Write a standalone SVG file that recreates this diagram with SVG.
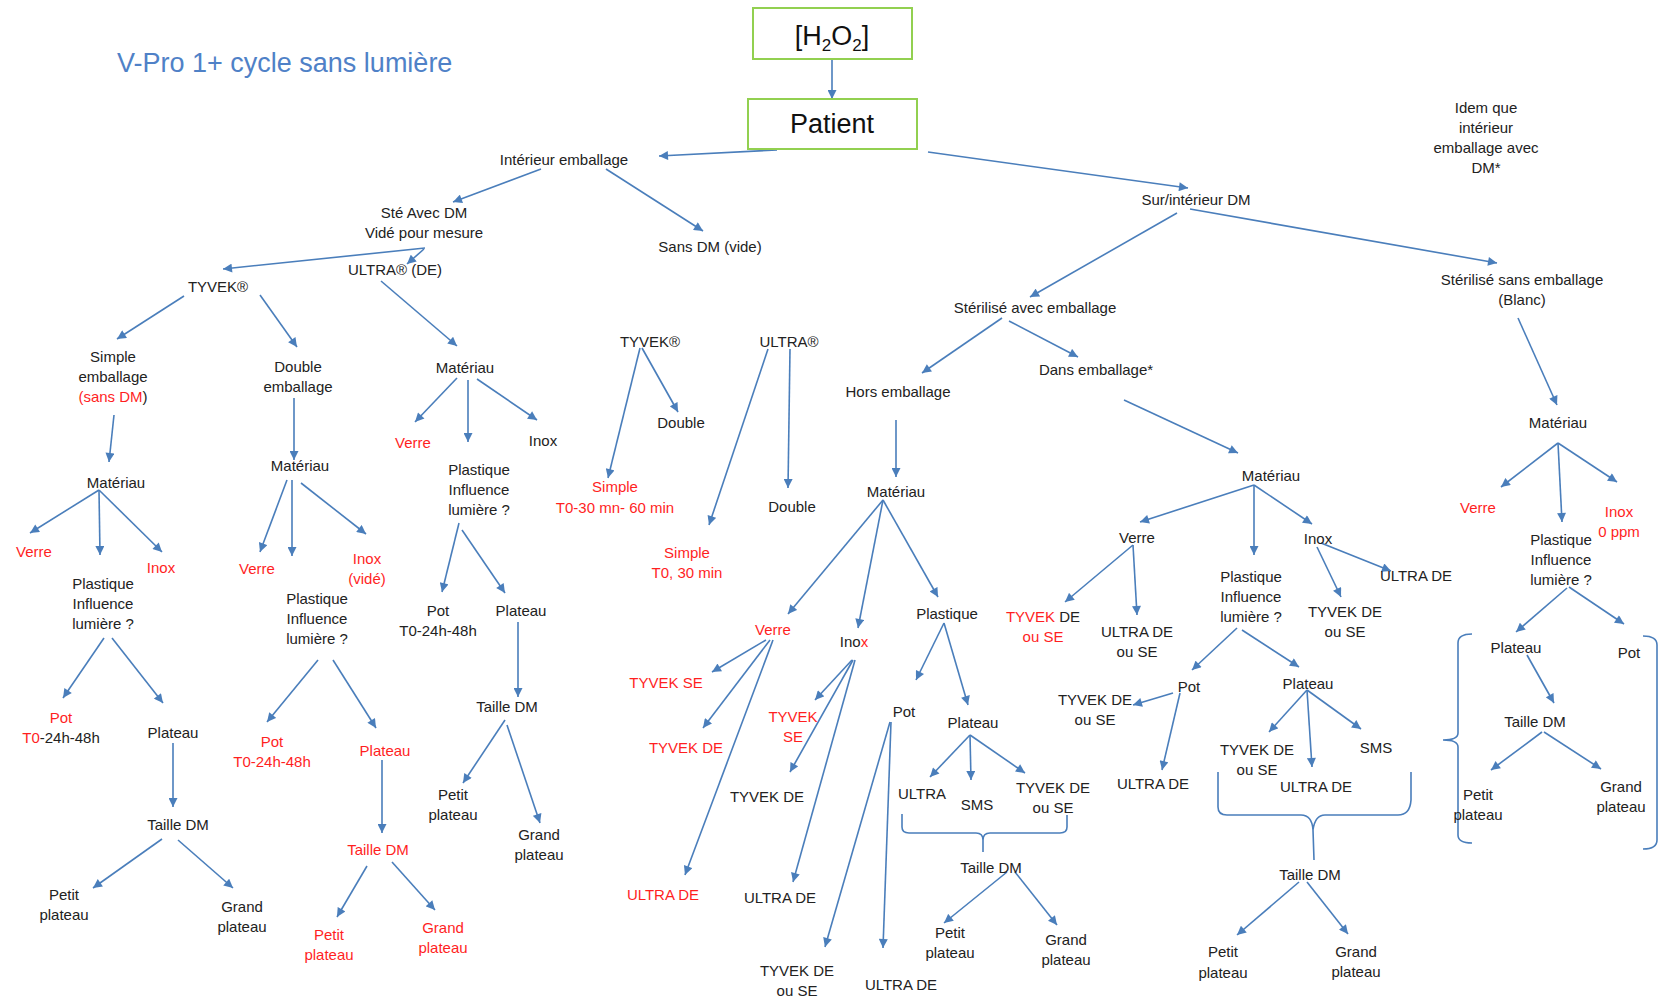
<svg xmlns="http://www.w3.org/2000/svg" width="1659" height="1000" viewBox="0 0 1659 1000">
<defs>
<style>
text{font-family:"Liberation Sans",Arial,sans-serif;font-size:15px;fill:#222;text-anchor:middle}
.r{fill:#ff1f1f}
.k{fill:#222}
.title{font-size:27px;fill:#4f81c7;text-anchor:start}
.big{font-size:27px;fill:#111}
.box{fill:#fff;stroke:#92d050;stroke-width:2}
#edges line{stroke:#4a7ebb;stroke-width:1.6;marker-end:url(#ah)}
#edges path{fill:none;stroke:#4a7ebb;stroke-width:1.6}
</style>
<marker id="ah" viewBox="0 0 10 10" refX="10" refY="5" markerWidth="10" markerHeight="9" markerUnits="userSpaceOnUse" orient="auto">
<path d="M0,0 L10,5 L0,10 z" fill="#4a7ebb"/>
</marker>
</defs>
<rect width="1659" height="1000" fill="#fff"/>
<g id="edges">
<line x1="832" y1="59" x2="832" y2="99"/>
<line x1="777" y1="150" x2="659" y2="156"/>
<line x1="928" y1="152" x2="1188" y2="188"/>
<line x1="541" y1="169" x2="453" y2="202"/>
<line x1="606" y1="169" x2="703" y2="231"/>
<line x1="425" y1="248" x2="223" y2="269"/>
<line x1="424" y1="249" x2="407" y2="264"/>
<line x1="184" y1="296" x2="117" y2="339"/>
<line x1="260" y1="295" x2="297" y2="347"/>
<line x1="381" y1="281" x2="457" y2="346"/>
<line x1="114" y1="415" x2="109" y2="462"/>
<line x1="99" y1="490" x2="30" y2="533"/>
<line x1="99" y1="490" x2="100" y2="555"/>
<line x1="99" y1="490" x2="162" y2="552"/>
<line x1="104" y1="638" x2="63" y2="698"/>
<line x1="112" y1="638" x2="163" y2="703"/>
<line x1="173" y1="743" x2="173" y2="807"/>
<line x1="162" y1="839" x2="93" y2="888"/>
<line x1="178" y1="840" x2="233" y2="888"/>
<line x1="294" y1="398" x2="294" y2="460"/>
<line x1="287" y1="480" x2="260" y2="552"/>
<line x1="292" y1="480" x2="292" y2="556"/>
<line x1="301" y1="483" x2="366" y2="534"/>
<line x1="318" y1="660" x2="267" y2="722"/>
<line x1="333" y1="660" x2="376" y2="728"/>
<line x1="382" y1="760" x2="382" y2="833"/>
<line x1="367" y1="866" x2="337" y2="917"/>
<line x1="392" y1="862" x2="435" y2="910"/>
<line x1="457" y1="378" x2="415" y2="422"/>
<line x1="468" y1="380" x2="468" y2="442"/>
<line x1="477" y1="379" x2="537" y2="420"/>
<line x1="459" y1="523" x2="442" y2="592"/>
<line x1="462" y1="530" x2="505" y2="593"/>
<line x1="518" y1="622" x2="518" y2="697"/>
<line x1="505" y1="720" x2="463" y2="783"/>
<line x1="507" y1="725" x2="540" y2="823"/>
<line x1="640" y1="348" x2="608" y2="478"/>
<line x1="642" y1="348" x2="678" y2="412"/>
<line x1="768" y1="349" x2="709" y2="525"/>
<line x1="790" y1="349" x2="788" y2="488"/>
<line x1="1177" y1="213" x2="1030" y2="297"/>
<line x1="1190" y1="209" x2="1497" y2="263"/>
<line x1="1518" y1="318" x2="1557" y2="405"/>
<line x1="1558" y1="443" x2="1501" y2="487"/>
<line x1="1558" y1="443" x2="1562" y2="522"/>
<line x1="1558" y1="443" x2="1617" y2="482"/>
<line x1="1567" y1="588" x2="1516" y2="632"/>
<line x1="1569" y1="587" x2="1624" y2="624"/>
<line x1="1527" y1="655" x2="1554" y2="703"/>
<line x1="1542" y1="732" x2="1491" y2="770"/>
<line x1="1544" y1="732" x2="1601" y2="769"/>
<line x1="1002" y1="318" x2="922" y2="373"/>
<line x1="1009" y1="321" x2="1078" y2="357"/>
<line x1="896" y1="420" x2="896" y2="477"/>
<line x1="1124" y1="400" x2="1238" y2="453"/>
<line x1="883" y1="500" x2="788" y2="614"/>
<line x1="883" y1="500" x2="858" y2="628"/>
<line x1="883" y1="500" x2="938" y2="597"/>
<line x1="766" y1="640" x2="712" y2="672"/>
<line x1="770" y1="640" x2="703" y2="728"/>
<line x1="773" y1="640" x2="685" y2="875"/>
<line x1="852" y1="660" x2="815" y2="700"/>
<line x1="853" y1="660" x2="790" y2="772"/>
<line x1="855" y1="660" x2="793" y2="882"/>
<line x1="944" y1="623" x2="916" y2="680"/>
<line x1="944" y1="623" x2="968" y2="705"/>
<line x1="890" y1="722" x2="825" y2="947"/>
<line x1="891" y1="722" x2="883" y2="948"/>
<line x1="970" y1="735" x2="930" y2="777"/>
<line x1="970" y1="735" x2="971" y2="780"/>
<line x1="970" y1="735" x2="1025" y2="773"/>
<line x1="1007" y1="872" x2="944" y2="923"/>
<line x1="1015" y1="872" x2="1057" y2="925"/>
<line x1="1254" y1="485" x2="1140" y2="522"/>
<line x1="1254" y1="485" x2="1254" y2="555"/>
<line x1="1254" y1="485" x2="1312" y2="524"/>
<line x1="1133" y1="545" x2="1065" y2="602"/>
<line x1="1133" y1="545" x2="1137" y2="615"/>
<line x1="1317" y1="547" x2="1341" y2="597"/>
<line x1="1321" y1="543" x2="1391" y2="571"/>
<line x1="1242" y1="630" x2="1299" y2="667"/>
<line x1="1237" y1="628" x2="1192" y2="670"/>
<line x1="1173" y1="693" x2="1133" y2="705"/>
<line x1="1180" y1="693" x2="1162" y2="770"/>
<line x1="1307" y1="690" x2="1269" y2="732"/>
<line x1="1307" y1="690" x2="1312" y2="767"/>
<line x1="1307" y1="690" x2="1361" y2="729"/>
<line x1="1299" y1="882" x2="1237" y2="935"/>
<line x1="1307" y1="882" x2="1348" y2="934"/>
<path d="M902,814 L902,827 Q902,833 909,833 L976,833 Q983,833 983,840 L983,852 M983,840 Q983,833 990,833 L1060,833 Q1067,833 1067,827 L1067,815"/>
<path d="M1218,772 L1218,807 Q1218,815 1227,815 L1301,815 Q1312,815 1313,830 L1314,860 M1313,830 Q1315,815 1325,815 L1398,815 Q1410,815 1411,800 L1411,772"/>
<path d="M1472,634 Q1458,634 1458,643 L1458,733 Q1458,740 1443,740 Q1458,740 1458,747 L1458,835 Q1458,843 1472,843"/>
<path d="M1643,636 Q1657,636 1657,645 L1657,840 Q1657,849 1643,849"/>
</g>
<g id="title"><text class="title" x="117" y="72">V-Pro 1+ cycle sans lumière</text></g>
<g id="h2o2"><rect class="box" x="753" y="8" width="159" height="51"/><text class="big" x="832" y="45">[H<tspan font-size="17" dy="6">2</tspan><tspan dy="-6">O</tspan><tspan font-size="17" dy="6">2</tspan><tspan dy="-6">]</tspan></text></g>
<g id="patient"><rect class="box" x="748" y="99" width="169" height="50"/><text class="big" x="832" y="133">Patient</text></g>
<g id="interieur"><text x="564" y="165">Intérieur emballage</text></g>
<g id="ste"><text x="424" y="218">Sté Avec DM</text><text x="424" y="238">Vidé pour mesure</text></g>
<g id="sansdm"><text x="710" y="252">Sans DM (vide)</text></g>
<g id="tyvek1"><text x="218" y="292">TYVEK®</text></g>
<g id="ultra1"><text x="395" y="275">ULTRA® (DE)</text></g>
<g id="simple-emb"><text x="113" y="362">Simple</text><text x="113" y="382">emballage</text><text x="113" y="402"><tspan class="r">(sans DM</tspan>)</text></g>
<g id="double-emb"><text x="298" y="372">Double</text><text x="298" y="392">emballage</text></g>
<g id="mat1"><text x="116" y="488">Matériau</text></g>
<g id="verre1"><text class="r" x="34" y="557">Verre</text></g>
<g id="inox1"><text class="r" x="161" y="573">Inox</text></g>
<g id="plast1"><text x="103" y="589">Plastique</text><text x="103" y="609">Influence</text><text x="103" y="629">lumière ?</text></g>
<g id="pot1"><text class="r" x="61" y="723">Pot</text><text x="61" y="743"><tspan class="r">T0</tspan>-24h-48h</text></g>
<g id="plateau1"><text x="173" y="738">Plateau</text></g>
<g id="taille1"><text x="178" y="830">Taille DM</text></g>
<g id="petit1"><text x="64" y="900">Petit</text><text x="64" y="920">plateau</text></g>
<g id="grand1"><text x="242" y="912">Grand</text><text x="242" y="932">plateau</text></g>
<g id="mat2"><text x="300" y="471">Matériau</text></g>
<g id="verre2"><text class="r" x="257" y="574">Verre</text></g>
<g id="inox2"><text class="r" x="367" y="564">Inox</text><text class="r" x="367" y="584">(vidé)</text></g>
<g id="plast2"><text x="317" y="604">Plastique</text><text x="317" y="624">Influence</text><text x="317" y="644">lumière ?</text></g>
<g id="pot2"><text class="r" x="272" y="747">Pot</text><text class="r" x="272" y="767">T0-24h-48h</text></g>
<g id="plateau2"><text class="r" x="385" y="756">Plateau</text></g>
<g id="taille2"><text class="r" x="378" y="855">Taille DM</text></g>
<g id="petit2"><text class="r" x="329" y="940">Petit</text><text class="r" x="329" y="960">plateau</text></g>
<g id="grand2"><text class="r" x="443" y="933">Grand</text><text class="r" x="443" y="953">plateau</text></g>
<g id="mat3"><text x="465" y="373">Matériau</text></g>
<g id="verre3"><text class="r" x="413" y="448">Verre</text></g>
<g id="inox3"><text x="543" y="446">Inox</text></g>
<g id="plast3"><text x="479" y="475">Plastique</text><text x="479" y="495">Influence</text><text x="479" y="515">lumière ?</text></g>
<g id="pot3"><text x="438" y="616">Pot</text><text x="438" y="636">T0-24h-48h</text></g>
<g id="plateau3"><text x="521" y="616">Plateau</text></g>
<g id="taille3"><text x="507" y="712">Taille DM</text></g>
<g id="petit3"><text x="453" y="800">Petit</text><text x="453" y="820">plateau</text></g>
<g id="grand3"><text x="539" y="840">Grand</text><text x="539" y="860">plateau</text></g>
<g id="tyvek2"><text x="650" y="347">TYVEK®</text></g>
<g id="ultra2"><text x="789" y="347">ULTRA®</text></g>
<g id="double3"><text x="681" y="428">Double</text></g>
<g id="simple3"><text class="r" x="615" y="492">Simple</text><text class="r" x="615" y="513">T0-30 mn- 60 min</text></g>
<g id="simple4"><text class="r" x="687" y="558">Simple</text><text class="r" x="687" y="578">T0, 30 min</text></g>
<g id="double4"><text x="792" y="512">Double</text></g>
<g id="surint"><text x="1196" y="205">Sur/intérieur DM</text></g>
<g id="steav"><text x="1035" y="313">Stérilisé avec emballage</text></g>
<g id="stesans"><text x="1522" y="285">Stérilisé sans emballage</text><text x="1522" y="305">(Blanc)</text></g>
<g id="idem"><text x="1486" y="113">Idem que</text><text x="1486" y="133">intérieur</text><text x="1486" y="153">emballage avec</text><text x="1486" y="173">DM*</text></g>
<g id="hors"><text x="898" y="397">Hors emballage</text></g>
<g id="dans"><text x="1096" y="375">Dans emballage*</text></g>
<g id="mat4"><text x="896" y="497">Matériau</text></g>
<g id="verre5"><text class="r" x="773" y="635">Verre</text></g>
<g id="inox5"><text x="854" y="647">Ino<tspan class="r">x</tspan></text></g>
<g id="plast5"><text x="947" y="619">Plastique</text></g>
<g id="tyvekse5"><text class="r" x="666" y="688">TYVEK SE</text></g>
<g id="tyvekde5"><text class="r" x="686" y="753">TYVEK DE</text></g>
<g id="ultrade5"><text class="r" x="663" y="900">ULTRA DE</text></g>
<g id="tyvekse6"><text class="r" x="793" y="722">TYVEK</text><text class="r" x="793" y="742">SE</text></g>
<g id="tyvekde6"><text x="767" y="802">TYVEK DE</text></g>
<g id="ultrade6"><text x="780" y="903">ULTRA DE</text></g>
<g id="pot7"><text x="904" y="717">Pot</text></g>
<g id="plateau7"><text x="973" y="728">Plateau</text></g>
<g id="tyvekdese7"><text x="797" y="976">TYVEK DE</text><text x="797" y="996">ou SE</text></g>
<g id="ultrade7"><text x="901" y="990">ULTRA DE</text></g>
<g id="ultra8"><text x="922" y="799">ULTRA</text></g>
<g id="sms8"><text x="977" y="810">SMS</text></g>
<g id="tyvekdese8"><text x="1053" y="793">TYVEK DE</text><text x="1053" y="813">ou SE</text></g>
<g id="taille8"><text x="991" y="873">Taille DM</text></g>
<g id="petit8"><text x="950" y="938">Petit</text><text x="950" y="958">plateau</text></g>
<g id="grand8"><text x="1066" y="945">Grand</text><text x="1066" y="965">plateau</text></g>
<g id="mat9"><text x="1271" y="481">Matériau</text></g>
<g id="verre9"><text x="1137" y="543">Verre</text></g>
<g id="plast9"><text x="1251" y="582">Plastique</text><text x="1251" y="602">Influence</text><text x="1251" y="622">lumière ?</text></g>
<g id="inox9"><text x="1318" y="544">Inox</text></g>
<g id="tyvek9"><text x="1043" y="622"><tspan class="r">TYVEK</tspan> DE</text><text class="r" x="1043" y="642">ou SE</text></g>
<g id="ultra9"><text x="1137" y="637">ULTRA DE</text><text x="1137" y="657">ou SE</text></g>
<g id="tyvekdese10"><text x="1345" y="617">TYVEK DE</text><text x="1345" y="637">ou SE</text></g>
<g id="ultrade10"><text x="1416" y="581">ULTRA DE</text></g>
<g id="pot11"><text x="1189" y="692">Pot</text></g>
<g id="plateau11"><text x="1308" y="689">Plateau</text></g>
<g id="tyvekdese11"><text x="1095" y="705">TYVEK DE</text><text x="1095" y="725">ou SE</text></g>
<g id="ultrade11"><text x="1153" y="789">ULTRA DE</text></g>
<g id="tyvekdese12"><text x="1257" y="755">TYVEK DE</text><text x="1257" y="775">ou SE</text></g>
<g id="ultrade12"><text x="1316" y="792">ULTRA DE</text></g>
<g id="sms12"><text x="1376" y="753">SMS</text></g>
<g id="taille12"><text x="1310" y="880">Taille DM</text></g>
<g id="petit12"><text x="1223" y="957">Petit</text><text x="1223" y="978">plateau</text></g>
<g id="grand12"><text x="1356" y="957">Grand</text><text x="1356" y="977">plateau</text></g>
<g id="mat13"><text x="1558" y="428">Matériau</text></g>
<g id="verre13"><text class="r" x="1478" y="513">Verre</text></g>
<g id="inox13"><text class="r" x="1619" y="517">Inox</text><text class="r" x="1619" y="537">0 ppm</text></g>
<g id="plast13"><text x="1561" y="545">Plastique</text><text x="1561" y="565">Influence</text><text x="1561" y="585">lumière ?</text></g>
<g id="plateau13"><text x="1516" y="653">Plateau</text></g>
<g id="pot13"><text x="1629" y="658">Pot</text></g>
<g id="taille13"><text x="1535" y="727">Taille DM</text></g>
<g id="petit13"><text x="1478" y="800">Petit</text><text x="1478" y="820">plateau</text></g>
<g id="grand13"><text x="1621" y="792">Grand</text><text x="1621" y="812">plateau</text></g>
</svg>
